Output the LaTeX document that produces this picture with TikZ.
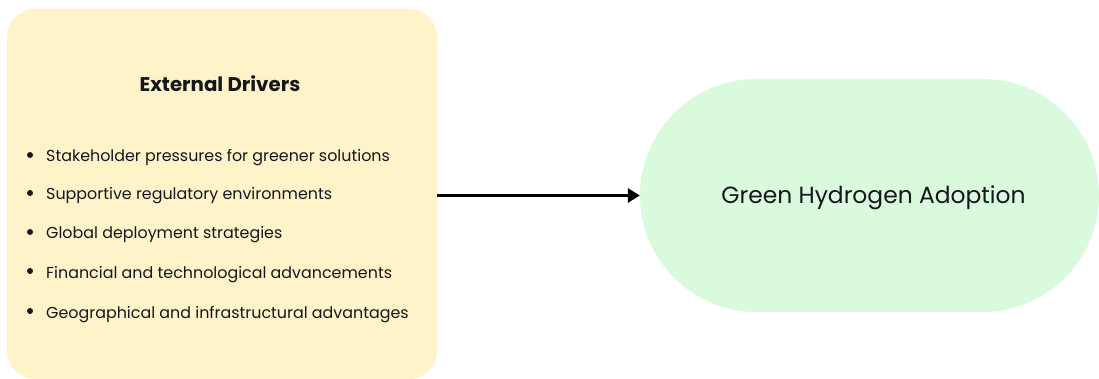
\documentclass[tikz,border=0pt]{standalone}
\usepackage{fontspec}
\setmainfont{Poppins}
\usetikzlibrary{arrows.meta,shapes.misc}
\definecolor{ylw}{RGB}{255,243,201}
\definecolor{grn}{RGB}{218,250,222}
\definecolor{txt}{RGB}{22,22,28}
\tikzset{
  panel/.style={fill=ylw, draw=none, rounded corners=28pt, inner sep=0pt},
  stadium/.style={rounded rectangle, fill=grn, draw=none, inner sep=0pt},
  titletext/.style={text=txt, font=\fontsize{19.8}{23}\selectfont\bfseries, inner sep=0pt, anchor=base},
  goaltext/.style={text=txt, font=\fontsize{23.4}{28}\selectfont, inner sep=0pt, anchor=base},
  item/.style={text=txt, font=\fontsize{15.9}{19}\selectfont, anchor=base west, inner sep=0pt},
  dot/.style={circle, fill=txt, minimum size=6pt, inner sep=0pt},
  arr/.style={-{Triangle[length=12pt,width=14pt]}, line width=3pt, draw=black}
}
\begin{document}
\begin{tikzpicture}[x=1pt,y=-1pt]
\useasboundingbox (0,0) rectangle (1099,379);
\node[panel, minimum width=430pt, minimum height=370pt] (ext) at (222,194) {};
\node[titletext] (title) at (220,92) {External Drivers};
\node[dot] (d1) at (30,155) {};
\node[item] (i1) at (46,162) {Stakeholder pressures for greener solutions};
\node[dot] (d2) at (30,193) {};
\node[item] (i2) at (46,200) {Supportive regulatory environments};
\node[dot] (d3) at (30,232) {};
\node[item] (i3) at (46,239) {Global deployment strategies};
\node[dot] (d4) at (30,271) {};
\node[item] (i4) at (46,278) {Financial and technological advancements};
\node[dot] (d5) at (30,311) {};
\node[item] (i5) at (46,318) {Geographical and infrastructural advantages};
\node[stadium, minimum width=459pt, minimum height=233pt] (goal) at (869.5,195.5) {};
\node[goaltext] (gtext) at (873.5,204) {Green Hydrogen Adoption};
\draw[arr] (ext.east |- goal.west) -- (goal.west);
\end{tikzpicture}
\end{document}
